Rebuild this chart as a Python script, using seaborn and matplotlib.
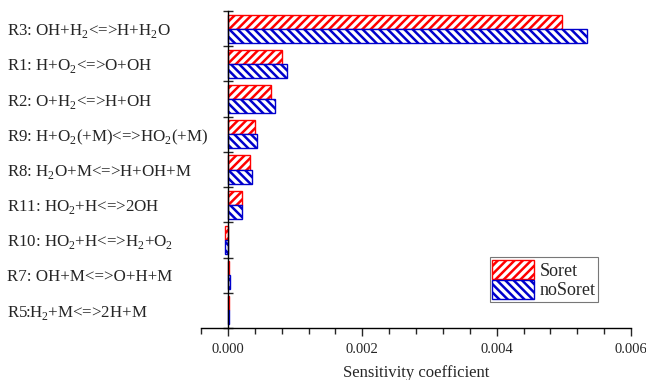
import numpy as np
import pandas as pd
import matplotlib
matplotlib.use("Agg")
import matplotlib.pyplot as plt
from matplotlib.patches import Patch
from matplotlib.ticker import MultipleLocator, FixedLocator, NullFormatter
import seaborn as sns

reactions = [
    r"R3: OH+H$_\mathregular{2}$<=>H+H$_\mathregular{2}$O",
    r"R1: H+O$_\mathregular{2}$<=>O+OH",
    r"R2: O+H$_\mathregular{2}$<=>H+OH",
    r"R9: H+O$_\mathregular{2}$(+M)<=>HO$_\mathregular{2}$(+M)",
    r"R8: H$_\mathregular{2}$O+M<=>H+OH+M",
    r"R11: HO$_\mathregular{2}$+H<=>2OH",
    r"R10: HO$_\mathregular{2}$+H<=>H$_\mathregular{2}$+O$_\mathregular{2}$",
    r"R7: OH+M<=>O+H+M",
    r"R5:H$_\mathregular{2}$+M<=>2H+M",
]
soret = [4.97e-3, 0.80e-3, 0.635e-3, 0.41e-3, 0.335e-3, 0.215e-3, -0.05e-3, 0.02e-3, 0.015e-3]
nosoret = [5.34e-3, 0.88e-3, 0.695e-3, 0.43e-3, 0.365e-3, 0.215e-3, -0.045e-3, 0.025e-3, 0.02e-3]
cases = ["Soret", "noSoret"]
colors = {"Soret": "#ff0000", "noSoret": "#0000cc"}
hatches = {"Soret": "////", "noSoret": "\\\\\\\\"}

df = pd.DataFrame({
    "reaction": reactions * 2,
    "value": soret + nosoret,
    "case": ["Soret"] * len(reactions) + ["noSoret"] * len(reactions),
})

sns.set_style("ticks")
plt.rcParams["font.family"] = ["Liberation Serif", "DejaVu Serif"]
plt.rcParams["mathtext.fontset"] = "custom"
plt.rcParams["mathtext.rm"] = "Liberation Serif"
plt.rcParams["hatch.linewidth"] = 1.8

fig = plt.figure(figsize=(6.46, 3.80), dpi=100)
ax = fig.add_axes([201 / 646, 52 / 380, (631 - 201) / 646, (328 - 11) / 380])

sns.barplot(data=df, y="reaction", x="value", hue="case", hue_order=cases,
            order=reactions, orient="h", width=0.8, palette=colors, ax=ax,
            legend=False, saturation=1)

for cont, case in zip(ax.containers, cases):
    for bar in cont:
        bar.set_facecolor("white")
        bar.set_edgecolor(colors[case])
        bar.set_hatch(hatches[case])
        bar.set_linewidth(1.0)

ax.set_xlim(-0.0004, 0.006)
ax.set_ylim(len(reactions) - 0.5, -0.5)

# y axis sits at zero sensitivity
ax.spines["left"].set_position(("data", 0))
ax.spines["top"].set_visible(False)
ax.spines["right"].set_visible(False)
for s in ("left", "bottom"):
    ax.spines[s].set_linewidth(1.0)
    ax.spines[s].set_color("black")

ax.xaxis.set_major_locator(FixedLocator([0, 0.002, 0.004, 0.006]))
ax.set_xticklabels(["0.000", "0.002", "0.004", "0.006"])
ax.xaxis.set_minor_locator(MultipleLocator(0.0004))
ax.tick_params(axis="x", which="major", direction="out", length=6, width=1, labelsize=10.5, pad=5)
ax.tick_params(axis="x", which="minor", direction="out", length=4, width=1)

# category labels at centres, tick marks at category boundaries
ax.yaxis.set_minor_locator(FixedLocator(np.arange(-0.5, len(reactions), 1.0)))
ax.yaxis.set_minor_formatter(NullFormatter())
ax.tick_params(axis="y", which="major", length=0, labelsize=12.2, pad=159)
ax.tick_params(axis="y", which="minor", direction="inout", length=7, width=1)
for lab in ax.get_yticklabels():
    lab.set_horizontalalignment("left")

ax.set_ylabel("")
ax.set_xlabel("Sensitivity coefficient", fontsize=12, labelpad=6)

handles = [Patch(facecolor="white", edgecolor=colors[c], hatch=hatches[c], linewidth=1.0, label=c)
           for c in cases]
leg = ax.legend(handles=handles, loc="lower right", bbox_to_anchor=(598 / 646, (380 - 302) / 380),
                bbox_transform=fig.transFigure, fontsize=13, frameon=True, fancybox=False,
                handlelength=2.3, handleheight=1.28, handletextpad=0.3, borderpad=0.15,
                labelspacing=0.0, borderaxespad=0)
leg.get_frame().set_edgecolor("#555555")
leg.get_frame().set_linewidth(0.8)

fig.savefig("out.png", dpi=100)
